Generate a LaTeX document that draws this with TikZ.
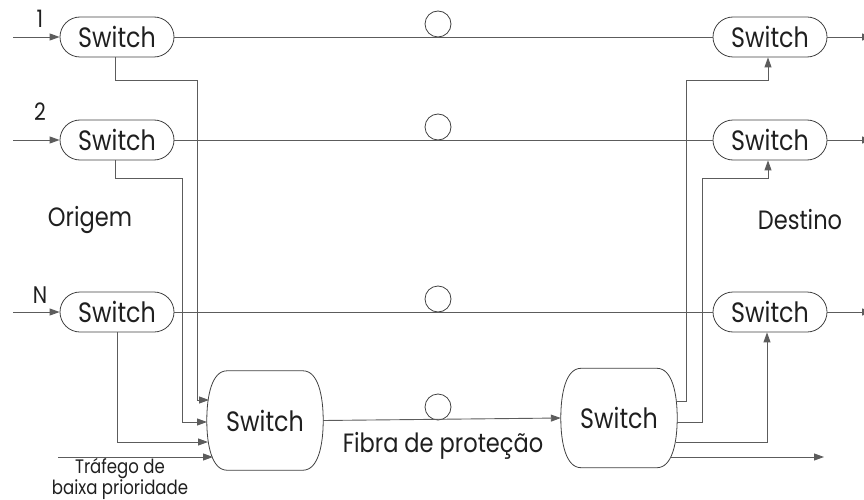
\documentclass[tikz,border=0pt]{standalone}
\usepackage{fontspec}
\setmainfont[FakeStretch=0.85]{Poppins}
\usetikzlibrary{arrows.meta,shapes.misc}
\definecolor{ln}{gray}{0.36}
\definecolor{ol}{gray}{0.25}
\definecolor{tx}{gray}{0.12}
\begin{document}
\begin{tikzpicture}[x=1pt,y=-1pt,
  every node/.style={text=tx},
  conn/.style={draw=ln,line width=0.9pt},
  arr/.style={conn,-{Triangle[length=10pt,width=7pt]}},
  sw/.style={rounded rectangle,draw=ol,line width=0.8pt,minimum width=114pt,minimum height=40pt,inner sep=0pt,font=\fontsize{28}{30}\selectfont},
  big/.style={rectangle,draw=none,minimum width=116pt,minimum height=99pt,inner sep=0pt,font=\fontsize{28}{30}\selectfont},
  ring/.style={circle,draw=ol,line width=0.8pt,minimum size=26pt,inner sep=0pt},
  lbl/.style={font=\fontsize{26.5}{28}\selectfont,inner sep=0pt},
  num/.style={font=\fontsize{24}{26}\selectfont,inner sep=0pt},
  small/.style={font=\fontsize{19.5}{20.5}\selectfont,inner sep=0pt,align=center}]
\useasboundingbox (0,0) rectangle (864,500);
% nodes
\node[sw] (s1) at (117,37) {Switch};
\node[sw] (s2) at (117,140) {Switch};
\node[sw] (sN) at (117,312) {Switch};
\node[sw] (d1) at (770,37) {Switch};
\node[sw] (d2) at (770,140) {Switch};
\node[sw] (dN) at (770,312) {Switch};
\node[big] (bL) at (265,420.5) {Switch};
\node[big] (bR) at (619,418) {Switch};
% big outlines
\foreach \n in {bL,bR}{
  \draw[draw=ol,line width=0.8pt] ([xshift=-38pt]\n.north) -- ([xshift=38pt]\n.north)
    .. controls ([xshift=53pt]\n.north) and ([yshift=25pt]\n.east) .. (\n.east)
    .. controls ([yshift=-25pt]\n.east) and ([xshift=53pt]\n.south) .. ([xshift=38pt]\n.south)
    -- ([xshift=-38pt]\n.south)
    .. controls ([xshift=-53pt]\n.south) and ([yshift=-25pt]\n.west) .. (\n.west)
    .. controls ([yshift=25pt]\n.west) and ([xshift=-53pt]\n.north) .. ([xshift=-38pt]\n.north);
}
% rings
\node[ring] (c1) at (438,24) {};
\node[ring] (c2) at (438,127) {};
\node[ring] (c3) at (438,299) {};
\node[ring] (c4) at (438,407) {};
% labels
\node[num] (l1) at (40,19) {1};
\node[num] (l2) at (40,112) {2};
\node[num] (lN) at (40,295) {N};
\node[lbl] (orig) at (90,220) {Origem};
\node[lbl] (dest) at (800,220) {Destino};
\node[lbl] (fib) at (443,446) {Fibra de proteção};
\node[small] (lp) at (120,479) {Tráfego de\\baixa prioridade};
% free-end coordinates
\coordinate (i1) at (13,37);
\coordinate (i2) at (13,140);
\coordinate (iN) at (13,312);
\coordinate (o1) at (872,37);
\coordinate (o2) at (872,140);
\coordinate (oN) at (872,312);
\coordinate (lpS) at (58,457);
\coordinate (inA) at (209,400);
\coordinate (inB) at (207,422);
\coordinate (inC) at (208,442);
\coordinate (inD) at (213,457);
\coordinate (outA) at (676,401);
\coordinate (outB) at (677,422);
\coordinate (outC) at (676,442);
\coordinate (outD) at (670,457);
\coordinate (outDend) at (824,457);
% inputs / outputs
\draw[arr] (i1) -- (s1.west);
\draw[arr] (i2) -- (s2.west);
\draw[arr] (iN) -- (sN.west);
\draw[arr] (d1.east) -- (o1);
\draw[arr] (d2.east) -- (o2);
\draw[arr] (dN.east) -- (oN);
% working fibres
\draw[conn] (s1.east) -- (d1.west);
\draw[conn] (s2.east) -- (d2.west);
\draw[conn] (sN.east) -- (dN.west);
\draw[arr] (bL.east) -- (bR.west);
% to protection switch
\draw[arr] ([xshift=-2pt]s1.south) |- (197,80) -- (197,400) -- (inA);
\draw[arr] ([xshift=-2pt]s2.south) |- (182,178) -- (182,422) -- (inB);
\draw[arr] (sN.south) |- (inC);
\draw[arr] (lpS) -- (inD);
% from protection switch
\draw[arr] (outA) -- (686,401) -- (686,80) -| ([xshift=-2pt]d1.south);
\draw[arr] (outB) -- (702,422) -- (702,178) -| ([xshift=-2pt]d2.south);
\draw[arr] (outC) -| ([xshift=-3pt]dN.south);
\draw[arr] (outD) -- (outDend);
\end{tikzpicture}
\end{document}
